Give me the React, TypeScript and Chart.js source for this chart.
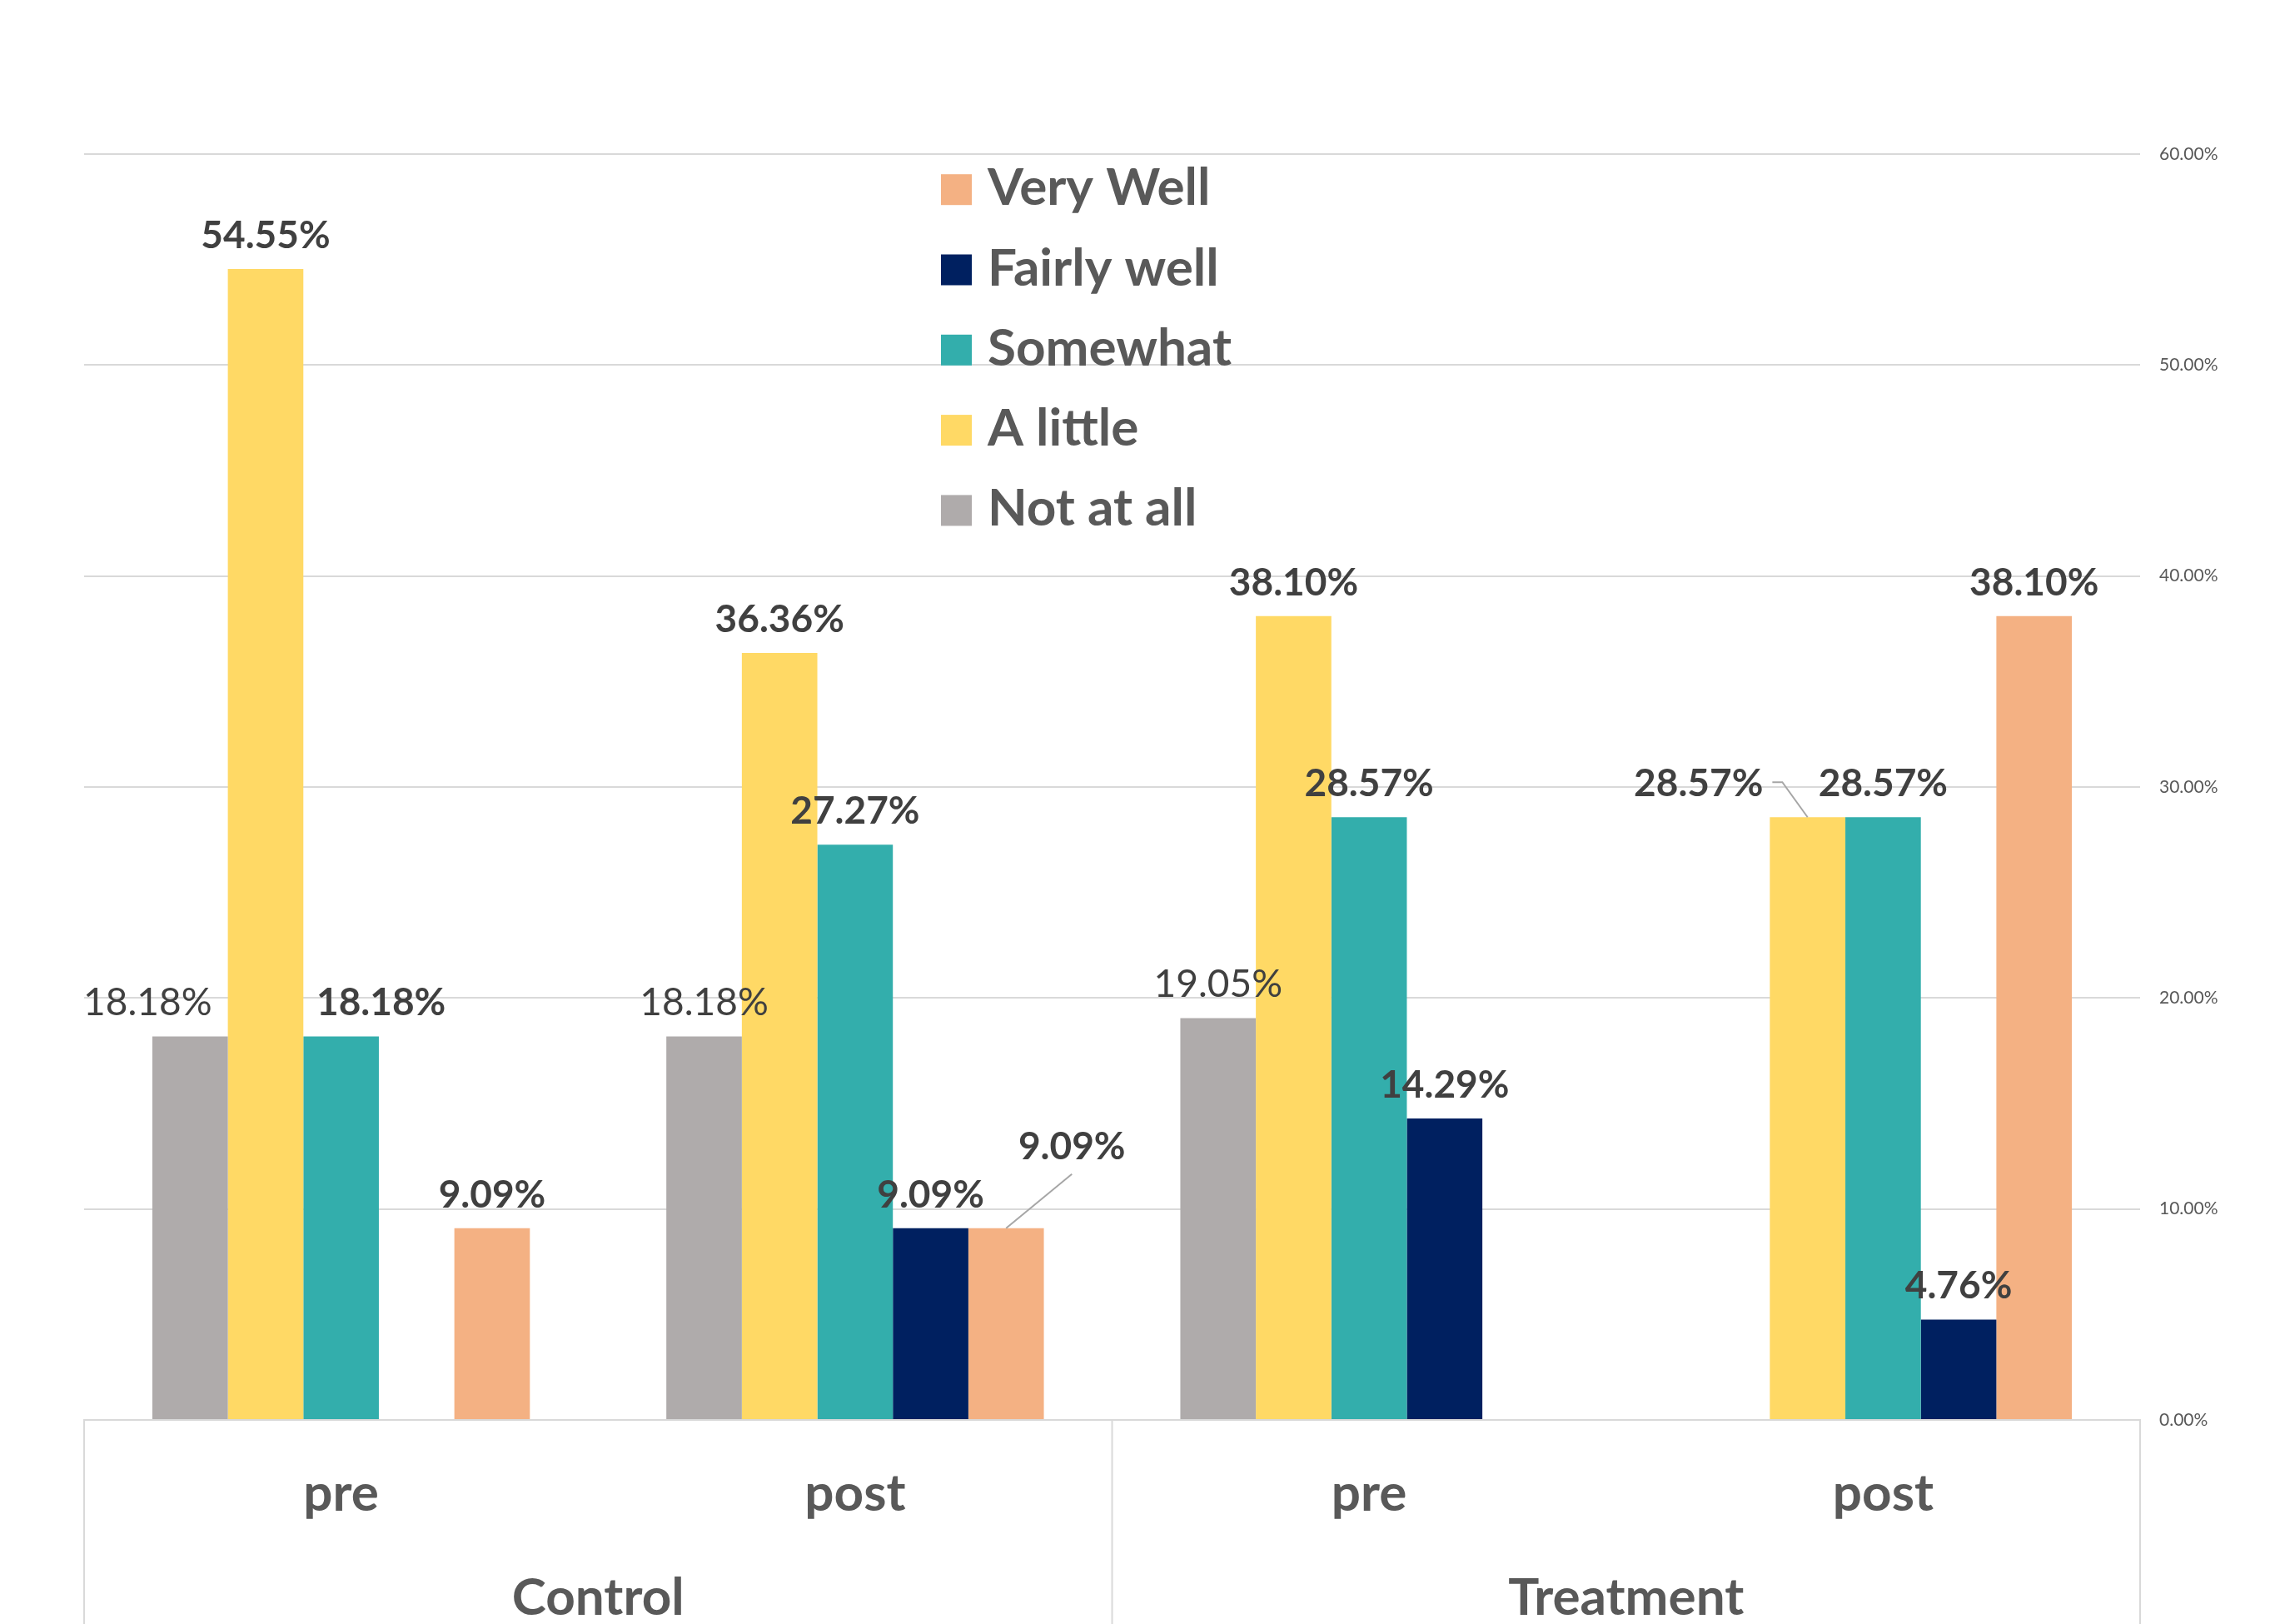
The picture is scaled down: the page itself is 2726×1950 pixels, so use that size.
import React, { useEffect, useRef } from 'react';
import { Chart, registerables } from 'chart.js';

Chart.register(...registerables);

// ---- data ----
const categories = ['pre', 'post', 'pre', 'post'];
const groups = ['Control', 'Treatment'];
const seriesNames = ['Not at all', 'A little', 'Somewhat', 'Fairly well', 'Very Well'];
const notAtAll = [18.18, 18.18, 19.05, null];
const aLittle = [54.55, 36.36, 38.1, 28.57];
const somewhat = [18.18, 27.27, 28.57, 28.57];
const fairlyWell = [null, 9.09, 14.29, 4.76];
const veryWell = [9.09, 9.09, null, 38.1];
const yTicks = [0, 10, 20, 30, 40, 50, 60];

// ---- styles ----
const colors = ['#AFABAB', '#FFD965', '#33AEAC', '#002060', '#F4B183'];
const FONT = 'Lato';
const labelMoves: Record<string, { dx: number; dy: number; leader?: 'down' | 'side' }> = {
  '0-0': { dx: -51, dy: 0 },
  '2-0': { dx: 48, dy: 0 },
  '4-1': { dx: 79, dy: -58, leader: 'down' },
  '1-3': { dx: -131, dy: 0, leader: 'side' },
};

const dataLabelPlugin = {
  id: 'dataLabels',
  afterDatasetsDraw(chart: any) {
    const ctx = chart.ctx;
    chart.data.datasets.forEach((ds: any, di: number) => {
      const meta = chart.getDatasetMeta(di);
      meta.data.forEach((el: any, i: number) => {
        const v = ds.data[i];
        if (v == null) return;
        const mv = labelMoves[`${di}-${i}`] || { dx: 0, dy: 0 };
        const x = el.x + mv.dx;
        const base = el.y - 25 + mv.dy;
        const text = Number(v).toFixed(2) + '%';
        ctx.save();
        ctx.font = `${di === 0 ? 'normal' : 'bold'} 46px ${FONT}`;
        ctx.fillStyle = '#404040';
        ctx.textAlign = 'center';
        ctx.textBaseline = 'alphabetic';
        ctx.fillText(text, x, base);
        ctx.strokeStyle = '#A6A6A6';
        ctx.lineWidth = 2;
        if (mv.leader === 'down') {
          ctx.beginPath();
          ctx.moveTo(x, base + 18);
          ctx.lineTo(el.x, el.y);
          ctx.stroke();
        } else if (mv.leader === 'side') {
          const w = ctx.measureText(text).width;
          const sx = x + w / 2 + 11;
          const sy = base - 17;
          ctx.beginPath();
          ctx.moveTo(sx, sy);
          ctx.lineTo(sx + 12, sy);
          ctx.lineTo(el.x, el.y);
          ctx.stroke();
        }
        ctx.restore();
      });
    });
  },
};

const boxLinesPlugin = {
  id: 'boxLines',
  afterDraw(chart: any) {
    const ctx = chart.ctx;
    const area = chart.chartArea;
    const xs = chart.scales.x;
    const mid = (xs.getPixelForValue(1) + xs.getPixelForValue(2)) / 2;
    ctx.save();
    ctx.strokeStyle = '#D9D9D9';
    ctx.lineWidth = 2;
    [area.left, mid, area.right].forEach((px: number) => {
      ctx.beginPath();
      ctx.moveTo(px, area.bottom);
      ctx.lineTo(px, chart.height);
      ctx.stroke();
    });
    ctx.restore();
  },
};

const legendPlugin = {
  id: 'innerLegend',
  afterDraw(chart: any) {
    const ctx = chart.ctx;
    const items = chart.data.datasets.map((d: any, i: number) => ({ label: d.label, color: d.backgroundColor, i })).reverse();
    ctx.save();
    items.forEach((it: any, k: number) => {
      const cy = 227.7 + k * 96.3;
      ctx.fillStyle = it.color;
      ctx.fillRect(1130, cy - 18.5, 37, 37);
      ctx.fillStyle = '#595959';
      ctx.font = `bold 62px ${FONT}`;
      ctx.textAlign = 'left';
      ctx.textBaseline = 'alphabetic';
      ctx.fillText(it.label, 1186, cy + 18.5);
    });
    ctx.restore();
  },
};

export default function App() {
  const ref = useRef<HTMLCanvasElement | null>(null);

  useEffect(() => {
    document.body.style.margin = '0';
    let chart: Chart | null = null;
    let cancelled = false;
    const make = () => {
      if (cancelled || !ref.current) return;
      const seriesData = [notAtAll, aLittle, somewhat, fairlyWell, veryWell];
      chart = new Chart(ref.current, {
        type: 'bar',
        data: {
          labels: categories,
          datasets: seriesNames.map((name, i) => ({
            label: name,
            data: seriesData[i] as any,
            backgroundColor: colors[i],
            borderWidth: 0,
            categoryPercentage: 0.7345,
            barPercentage: 1,
          })),
        },
        options: {
          responsive: false,
          animation: false,
          layout: { padding: { top: 185, left: 101, right: 0, bottom: 0 } },
          plugins: { legend: { display: false }, tooltip: { enabled: false } },
          scales: {
            x: {
              type: 'category',
              position: 'bottom',
              weight: 0,
              grid: { display: false, drawTicks: false },
              border: { display: true, color: '#D9D9D9', width: 2 },
              ticks: {
                font: { family: FONT, size: 62, weight: 'bold' },
                color: '#595959',
                padding: 52,
                maxRotation: 0,
                autoSkip: false,
              },
              afterFit: (s: any) => {
                s.height = 145;
              },
            },
            x2: {
              type: 'category',
              labels: groups,
              position: 'bottom',
              weight: 1,
              offset: true,
              grid: { display: false, drawTicks: false },
              border: { display: false },
              ticks: {
                font: { family: FONT, size: 62, weight: 'bold' },
                color: '#595959',
                padding: 32,
                maxRotation: 0,
                autoSkip: false,
              },
              afterFit: (s: any) => {
                s.height = 100;
              },
            },
            y: {
              position: 'right',
              min: 0,
              max: 60,
              afterBuildTicks: (s: any) => {
                s.ticks = yTicks.map((v) => ({ value: v }));
              },
              ticks: {
                callback: (v: any) => Number(v).toFixed(2) + '%',
                font: { family: FONT, size: 21 },
                color: '#595959',
                padding: 23,
              },
              grid: { color: '#D9D9D9', lineWidth: 2, drawTicks: false },
              border: { display: false },
              afterFit: (s: any) => {
                s.width = 156;
              },
            },
          } as any,
        },
        plugins: [dataLabelPlugin, boxLinesPlugin, legendPlugin],
      });
    };
    const fonts = (document as any).fonts;
    if (fonts && fonts.load) {
      Promise.all(
        [`bold 46px ${FONT}`, `46px ${FONT}`, `bold 62px ${FONT}`, `21px ${FONT}`].map((f) => fonts.load(f))
      ).then(make, make);
    } else {
      make();
    }
    return () => {
      cancelled = true;
      if (chart) chart.destroy();
    };
  }, []);

  return (
    <div style={{ width: 2726, height: 1950, position: 'relative', background: '#ffffff' }}>
      <canvas ref={ref} width={2726} height={1950} style={{ display: 'block', width: 2726, height: 1950 }} />
    </div>
  );
}
